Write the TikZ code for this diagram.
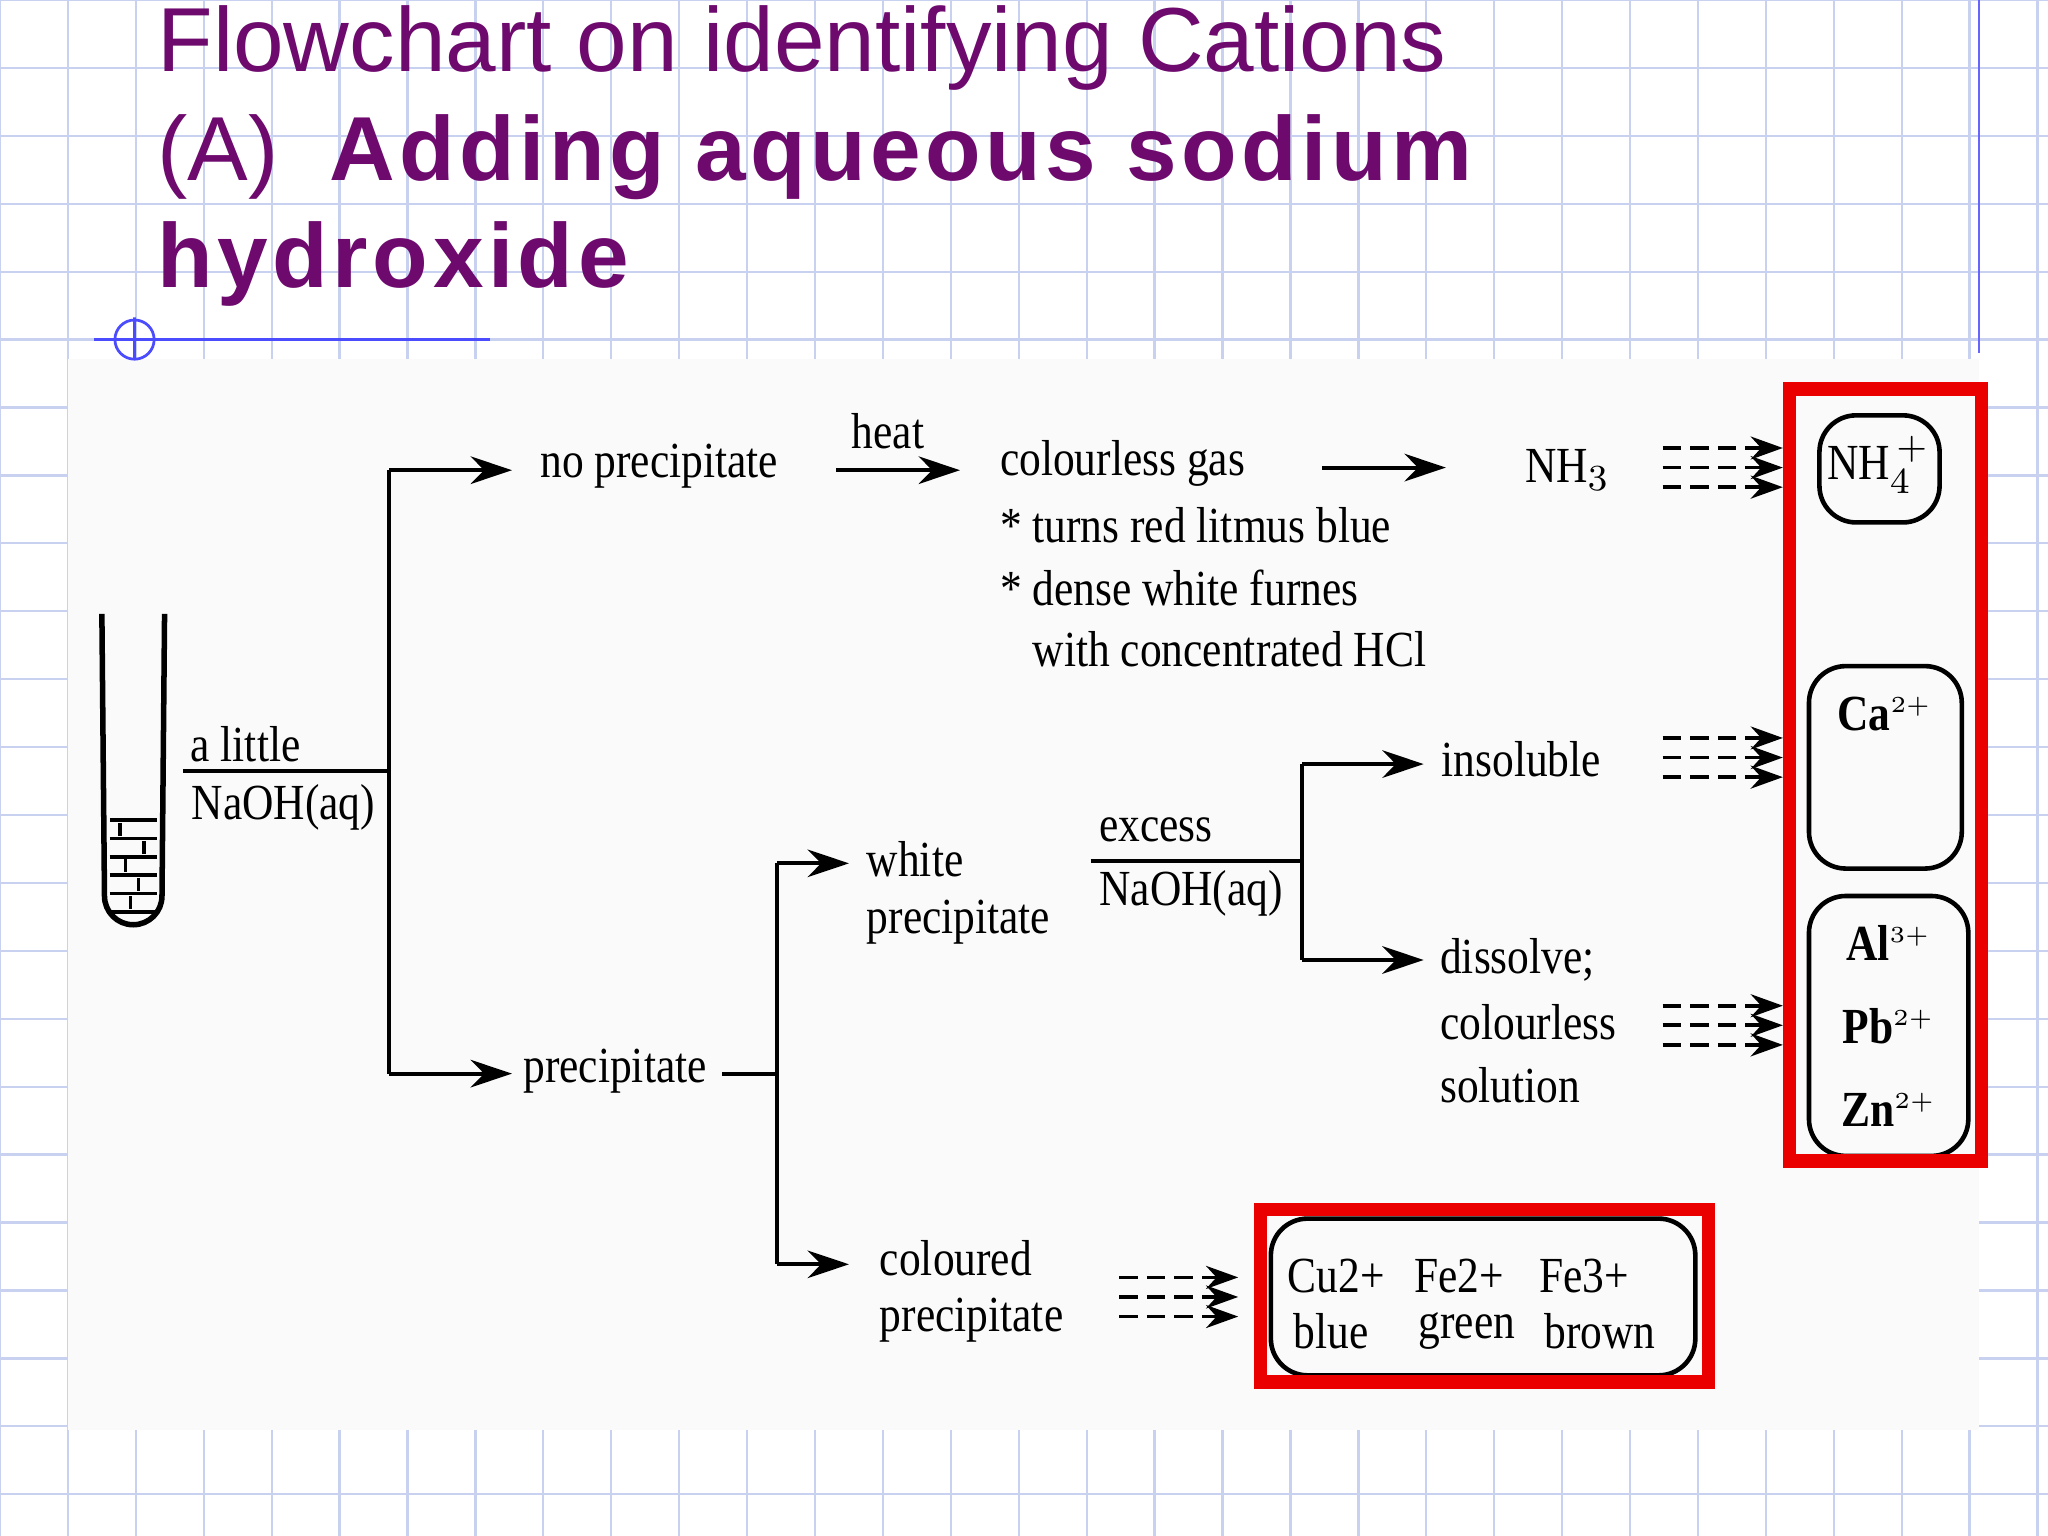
\documentclass[tikz,border=0pt]{standalone}
\usepackage{fontspec}
\setmainfont{Liberation Serif}[FakeStretch=0.86]
\newfontfamily\titlefont{Liberation Sans}
\newfontfamily\titlebold{Liberation Sans Bold}[LetterSpace=5]
\usetikzlibrary{arrows.meta}
\definecolor{ttl}{RGB}{110,10,110}
\definecolor{gridc}{RGB}{200,210,240}
\definecolor{redb}{RGB}{235,0,0}
\tikzset{x=0.01cm,y=-0.01cm,
 lab/.style={inner sep=0pt,font=\fontsize{11}{12}\selectfont},
 labl/.style={lab,anchor=west},
 arr/.style={-{Stealth[length=9,width=6]},line width=0.9pt},
 ln/.style={line width=0.9pt},
 dsh/.style={dashed,dash pattern=on 4pt off 2pt,line width=0.8pt,-{Stealth[length=7,width=5]}},
 ibox/.style={draw,line width=1pt,rounded corners=8pt},
 rbox/.style={draw=redb,line width=3pt},
 ion/.style={lab,font=\bfseries\fontsize{11}{12}\selectfont},
 ttlst/.style={anchor=west,inner sep=0,text=ttl,font=\titlefont\fontsize{19.8}{22}\selectfont}}
\begin{document}
\begin{tikzpicture}
\useasboundingbox (0,0) rectangle (1568,1176);
\fill[white] (0,0) rectangle (1568,1176);
\foreach \i in {0,...,30} \draw[gridc,line width=0.5pt] (\i*52,0) -- (\i*52,1176);
\foreach \j in {0,...,23} \draw[gridc,line width=0.5pt] (0,\j*52) -- (1568,\j*52);
\fill[white!98!black] (52,275) rectangle (1515,1095);
\draw[blue!70,line width=0.6pt] (72,260) -- (375,260);
\draw[blue!70,line width=0.6pt] (103,260) circle[radius=0.15cm] (103,243) -- (103,275);
\draw[blue!60,line width=0.5pt] (1515,0) -- (1515,270);
% title
\node[ttlst] (t1) at (120,37) {Flowchart on identifying Cations};
\node[ttlst] (t2) at (120,120) {(A)\ \ {\titlebold Adding aqueous sodium}};
\node[ttlst] (t3) at (120,202) {{\titlebold hydroxide}};
% test tube
\draw[line width=1.2pt] (78,470) -- (80,686) arc[start angle=180,end angle=360,x radius=0.22cm,y radius=0.22cm] -- (126,470);
\foreach \yy in {628,642,656,670,684,698} \draw[line width=0.8pt] (84,\yy) -- (120,\yy);
\foreach \yy/\xx in {635/92,649/110,663/96,677/106,691/100} \draw[line width=0.8pt] (\xx,\yy-5) -- (\xx,\yy+5);
% labels
\node[lab] (al) at (188,570) {a little};
\node[lab] (na) at (217,618) {NaOH(aq)};
\coordinate (s) at (140,590); \coordinate (j1) at (298,590);
\draw[ln] (s) -- (j1);
\coordinate (j1t) at (298,360); \coordinate (j1b) at (298,822);
\coordinate (e1) at (392,360); \coordinate (e2) at (392,822);
\draw[ln] (j1t) -- (j1b);
\node[labl] (np) at (413,357) {no precipitate};
\node[labl] (pr) at (400,820) {precipitate};
\draw[arr] (j1t) -- (e1);
\draw[arr] (j1b) -- (e2);
\node[lab] (heat) at (680,330) {heat};
\coordinate (h1) at (640,360); \coordinate (h2) at (735,360);
\draw[arr] (h1) -- (h2);
\node[labl] (cg) at (765,355) {colourless gas};
\node[labl] (c2) at (765,402) {* turns red litmus blue};
\node[labl] (c3) at (765,450) {* dense white furnes};
\node[labl] (c4) at (790,497) {with concentrated HCl};
\node[lab] (nh3) at (1200,360) {NH$_3$};
\coordinate (g1) at (1012,358); \coordinate (g2) at (1107,358);
\draw[arr] (g1) -- (g2);
\draw[ibox] (1393,318) rectangle (1485,400);
\node[lab,font=\fontsize{11}{12}\selectfont] (nh4) at (1438,356) {NH$_4^{\,+}$};
% precipitate branches
\coordinate (pe) at (553,822); \coordinate (j2) at (595,822);
\draw[ln] (pe) -- (j2);
\coordinate (j2t) at (595,661); \coordinate (j2b) at (595,968);
\coordinate (e3) at (650,661); \coordinate (e4) at (650,968);
\draw[ln] (j2t) -- (j2b);
\node[labl] (wp1) at (663,658) {white};
\node[labl] (wp2) at (663,706) {precipitate};
\draw[arr] (j2t) -- (e3);
\node[labl] (cp1) at (673,963) {coloured};
\node[labl] (cp2) at (673,1011) {precipitate};
\draw[arr] (j2b) -- (e4);
\node[lab] (ex) at (885,635) {excess};
\node[lab] (ex2) at (912,684) {NaOH(aq)};
\draw[ln] (835,659) -- (997,659);
\coordinate (j3t) at (997,585); \coordinate (j3b) at (997,735);
\coordinate (e5) at (1090,585); \coordinate (e6) at (1090,735);
\draw[ln] (j3t) -- (j3b);
\node[labl] (ins) at (1103,581) {insoluble};
\node[labl] (d1) at (1102,735) {dissolve;};
\node[labl] (d2) at (1102,783) {colourless};
\node[labl] (d3) at (1102,831) {solution};
\draw[arr] (j3t) -- (e5);
\draw[arr] (j3b) -- (e6);
% dashed arrows
\foreach \yy in {343,358,373,565,580,595,770,785,800} \draw[dsh] (1273,\yy) -- (1365,\yy);
\foreach \yy in {978,993,1008} \draw[dsh] (857,\yy) -- (948,\yy);
% ion boxes
\draw[ibox] (1385,510) rectangle (1502,665);
\node[ion] (ca) at (1443,547) {Ca$^{\scriptscriptstyle 2+}$};
\draw[ibox] (1385,686) rectangle (1507,885);
\node[ion] (al3) at (1446,722) {Al$^{\scriptscriptstyle 3+}$};
\node[ion] (pb) at (1446,786) {Pb$^{\scriptscriptstyle 2+}$};
\node[ion] (zn) at (1446,850) {Zn$^{\scriptscriptstyle 2+}$};
\draw[rbox] (1370,298) rectangle (1517,889);
\draw[ibox] (973,933) rectangle (1298,1053);
\draw[rbox] (965,926) rectangle (1308,1058);
\node[lab] (cu) at (1023,977) {Cu2+};
\node[lab] (fe2) at (1117,977) {Fe2+};
\node[lab] (fe3) at (1213,977) {Fe3+};
\node[lab] (bl) at (1019,1019) {blue};
\node[lab] (gr) at (1123,1019) {green};
\node[lab] (br) at (1225,1019) {brown};
\end{tikzpicture}
\end{document}
